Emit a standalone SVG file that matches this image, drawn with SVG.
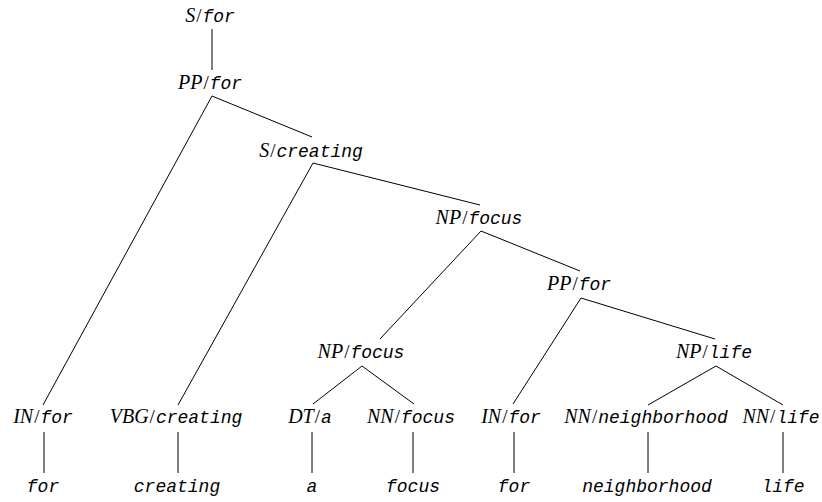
<svg xmlns="http://www.w3.org/2000/svg" width="822" height="502" viewBox="0 0 822 502">
  <style>
    .lbl { font-size: 18px; text-anchor: middle; fill: #000; }
    .cat { font-family: "Liberation Serif", "DejaVu Serif", serif; font-style: italic; font-size: 20px; }
    .sl { font-family: "Liberation Serif", "DejaVu Serif", serif; font-style: normal; font-size: 19px; }
    .wd { font-family: "Liberation Mono", "DejaVu Sans Mono", monospace; font-style: italic; }
    .edges line { stroke: #000; stroke-width: 1; }
  </style>
  <rect width="822" height="502" fill="#fff"/>

  <g class="edges">
    <line x1="212" y1="29" x2="212" y2="70"/>
    <line x1="212" y1="96" x2="43" y2="405"/>
    <line x1="212" y1="96" x2="312" y2="137"/>
    <line x1="313" y1="163" x2="178" y2="405"/>
    <line x1="313" y1="163" x2="480" y2="205"/>
    <line x1="481" y1="231" x2="380" y2="339"/>
    <line x1="481" y1="231" x2="580" y2="271"/>
    <line x1="581" y1="298" x2="513" y2="404"/>
    <line x1="581" y1="298" x2="715" y2="339"/>
    <line x1="362" y1="366" x2="313" y2="404"/>
    <line x1="362" y1="366" x2="414" y2="404"/>
    <line x1="716" y1="366" x2="648" y2="405"/>
    <line x1="716" y1="366" x2="783" y2="405"/>
    <line x1="44" y1="432" x2="44" y2="473"/>
    <line x1="178" y1="432" x2="178" y2="473"/>
    <line x1="312" y1="432" x2="312" y2="473"/>
    <line x1="413" y1="432" x2="413" y2="473"/>
    <line x1="514" y1="432" x2="514" y2="473"/>
    <line x1="648" y1="432" x2="648" y2="473"/>
    <line x1="783" y1="432" x2="783" y2="473"/>
  </g>

  <g id="n-s-for"><text class="lbl" x="210" y="22"><tspan class="cat">S</tspan><tspan class="sl" dx="1">/</tspan><tspan class="wd" dx="1">for</tspan></text></g>
  <g id="n-pp-for"><text class="lbl" x="210" y="89"><tspan class="cat">PP</tspan><tspan class="sl" dx="1">/</tspan><tspan class="wd" dx="1">for</tspan></text></g>
  <g id="n-s-creating"><text class="lbl" x="311" y="157"><tspan class="cat">S</tspan><tspan class="sl" dx="1">/</tspan><tspan class="wd" dx="1">creating</tspan></text></g>
  <g id="n-np-focus"><text class="lbl" x="479" y="224"><tspan class="cat">NP</tspan><tspan class="sl" dx="1">/</tspan><tspan class="wd" dx="1">focus</tspan></text></g>
  <g id="n-pp-for2"><text class="lbl" x="579" y="290"><tspan class="cat">PP</tspan><tspan class="sl" dx="1">/</tspan><tspan class="wd" dx="1">for</tspan></text></g>
  <g id="n-np-focus2"><text class="lbl" x="361" y="358"><tspan class="cat">NP</tspan><tspan class="sl" dx="1">/</tspan><tspan class="wd" dx="1">focus</tspan></text></g>
  <g id="n-np-life"><text class="lbl" x="714" y="358"><tspan class="cat">NP</tspan><tspan class="sl" dx="1">/</tspan><tspan class="wd" dx="1">life</tspan></text></g>

  <g id="n-in-for"><text class="lbl" x="43" y="423"><tspan class="cat">IN</tspan><tspan class="sl" dx="1">/</tspan><tspan class="wd" dx="1">for</tspan></text></g>
  <g id="n-vbg-creating"><text class="lbl" x="176" y="423"><tspan class="cat">VBG</tspan><tspan class="sl" dx="1">/</tspan><tspan class="wd" dx="1">creating</tspan></text></g>
  <g id="n-dt-a"><text class="lbl" x="310" y="423"><tspan class="cat">DT</tspan><tspan class="sl" dx="1">/</tspan><tspan class="wd" dx="1">a</tspan></text></g>
  <g id="n-nn-focus"><text class="lbl" x="411" y="423"><tspan class="cat">NN</tspan><tspan class="sl" dx="1">/</tspan><tspan class="wd" dx="1">focus</tspan></text></g>
  <g id="n-in-for2"><text class="lbl" x="511" y="423"><tspan class="cat">IN</tspan><tspan class="sl" dx="1">/</tspan><tspan class="wd" dx="1">for</tspan></text></g>
  <g id="n-nn-neighborhood"><text class="lbl" x="646" y="423"><tspan class="cat">NN</tspan><tspan class="sl" dx="1">/</tspan><tspan class="wd" dx="1">neighborhood</tspan></text></g>
  <g id="n-nn-life"><text class="lbl" x="781" y="423"><tspan class="cat">NN</tspan><tspan class="sl" dx="1">/</tspan><tspan class="wd" dx="1">life</tspan></text></g>

  <g id="w-for"><text class="lbl wd" x="43" y="492">for</text></g>
  <g id="w-creating"><text class="lbl wd" x="177" y="492">creating</text></g>
  <g id="w-a"><text class="lbl wd" x="312" y="492">a</text></g>
  <g id="w-focus"><text class="lbl wd" x="413" y="492">focus</text></g>
  <g id="w-for2"><text class="lbl wd" x="514" y="492">for</text></g>
  <g id="w-neighborhood"><text class="lbl wd" x="647" y="492">neighborhood</text></g>
  <g id="w-life"><text class="lbl wd" x="783" y="492">life</text></g>
</svg>
